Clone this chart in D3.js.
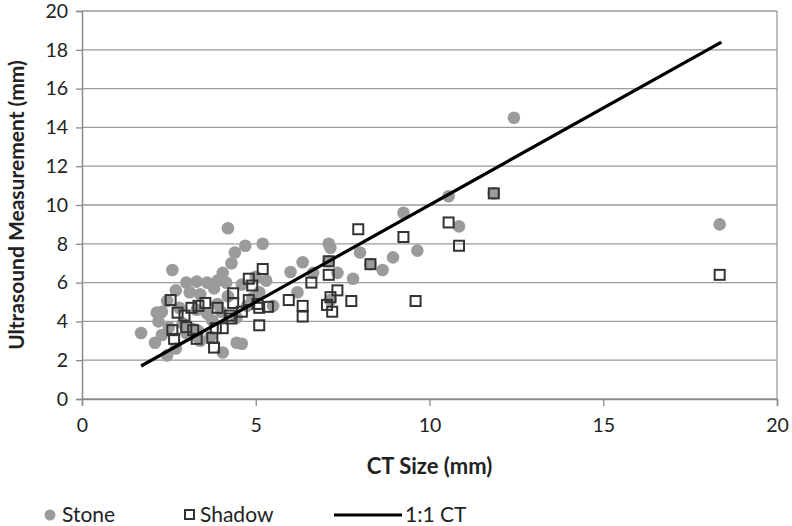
<!DOCTYPE html>
<html>
<head>
<meta charset="utf-8">
<script src="https://cdn.jsdelivr.net/npm/d3@7"></script>
<style>
  body { margin: 0; background: #fff; }
  text { font-family: Lato, "Open Sans", sans-serif; fill: #222; }
</style>
</head>
<body>
<div id="chart"></div>
<script>
var width = 792, height = 526;
var margin = {left: 82, right: 15, top: 11, bottom: 127};

// stone measurements [CT size, ultrasound]
var stone = [
  [12.43,14.5],[18.35,9.0],[10.55,10.45],[10.85,8.9],[9.25,9.6],[9.65,7.65],[8.95,7.3],
  [8.65,6.65],[8.0,7.55],[7.1,8.0],[7.15,7.8],[7.35,6.5],[7.8,6.2],[6.35,7.05],[6.0,6.55],
  [6.65,6.5],[6.2,5.5],[7.15,5.1],[11.85,10.6],[8.3,6.95],[7.1,7.1],[4.2,8.8],[4.7,7.9],
  [5.2,8.0],[4.4,7.55],[4.3,7.0],[2.6,6.65],[4.05,6.5],[3.0,6.0],[3.3,6.05],[3.6,6.0],
  [3.9,6.1],[4.15,6.0],[5.3,6.1],[5.0,6.3],[3.1,5.5],[3.4,5.4],[5.1,5.5],[2.15,4.45],
  [2.45,5.05],[2.8,4.7],[1.7,3.4],[2.1,2.9],[2.45,2.25],[2.7,2.6],[2.3,3.3],[3.0,3.4],
  [3.2,3.6],[3.35,3.5],[4.05,2.4],[4.45,2.9],[4.6,2.85],[3.75,4.05],[4.45,4.2],[4.75,4.8],
  [3.6,4.4],[3.9,4.9],[2.9,3.9],[3.4,3.0],[3.7,3.2],[2.5,3.7],[2.2,4.0],[4.0,4.5],
  [4.9,5.2],[5.5,4.8],[4.2,5.3],[3.3,4.6],[2.7,5.6],[3.8,5.7],[4.6,5.9],[3.2,3.3],[2.3,4.5]
];

// acoustic shadow measurements [CT size, ultrasound]
var shadow = [
  [11.85,10.6],[7.95,8.75],[9.25,8.35],[10.55,9.1],[10.85,7.9],[7.1,7.1],[8.3,6.95],
  [7.1,6.4],[6.6,6.0],[7.35,5.6],[7.15,5.25],[5.95,5.1],[6.35,4.8],[7.05,4.85],[7.75,5.05],
  [9.6,5.05],[6.35,4.25],[7.2,4.5],[18.35,6.4],[5.2,6.7],[4.8,6.2],[4.9,5.85],[4.35,5.45],
  [4.35,4.95],[4.8,5.1],[5.05,4.9],[5.35,4.75],[5.1,4.7],[4.6,4.5],[4.3,4.15],[5.1,3.8],
  [2.55,5.1],[2.75,4.45],[2.95,4.3],[3.15,4.7],[3.35,4.8],[3.55,4.95],[3.9,4.7],[2.6,3.55],
  [2.65,3.1],[3.0,3.7],[3.2,3.55],[3.3,3.1],[3.85,3.65],[4.05,3.65],[3.75,3.15],[3.8,2.65],
  [4.25,4.3]
];

var lineCT = [1.7, 18.4]; // 1:1 reference line ends
var xTicks = [0, 5, 10, 15, 20];
var yTicks = [0, 2, 4, 6, 8, 10, 12, 14, 16, 18, 20];

var svg = d3.select("#chart").append("svg")
  .attr("width", width).attr("height", height);

var x = d3.scaleLinear().domain([0, 20]).range([margin.left, width - margin.right]);
var y = d3.scaleLinear().domain([0, 20]).range([height - margin.bottom, margin.top]);

// gridlines
svg.append("g").selectAll("line").data(yTicks).enter().append("line")
  .attr("x1", x(0)).attr("x2", x(20))
  .attr("y1", d => y(d)).attr("y2", d => y(d))
  .attr("stroke", "#9a9a9a").attr("stroke-width", 1.3);

// right border of plot
svg.append("line")
  .attr("x1", x(20)).attr("x2", x(20)).attr("y1", y(20)).attr("y2", y(0))
  .attr("stroke", "#9a9a9a").attr("stroke-width", 1.3);

// axes
var yAxis = svg.append("g")
  .attr("transform", `translate(${x(0)},0)`)
  .call(d3.axisLeft(y).tickValues(yTicks).tickSize(6).tickPadding(8));
var xAxis = svg.append("g")
  .attr("transform", `translate(0,${y(0)})`)
  .call(d3.axisBottom(x).tickValues(xTicks).tickSize(7).tickPadding(12));

[xAxis, yAxis].forEach(function (a) {
  a.select(".domain").attr("stroke", "#8a8a8a").attr("stroke-width", 1.5);
  a.selectAll(".tick line").attr("stroke", "#8a8a8a").attr("stroke-width", 1.3);
  a.selectAll(".tick text").style("font-size", "19.5px").style("font-family", "Lato, sans-serif").attr("fill", "#222");
});

// stones
svg.append("g").selectAll("circle").data(stone).enter().append("circle")
  .attr("cx", d => x(d[0])).attr("cy", d => y(d[1]))
  .attr("r", 6.3)
  .attr("fill", "#9b9b9b");

// shadows
var sq = 10;
svg.append("g").selectAll("rect").data(shadow).enter().append("rect")
  .attr("x", d => x(d[0]) - sq / 2).attr("y", d => y(d[1]) - sq / 2)
  .attr("width", sq).attr("height", sq)
  .attr("fill", "none")
  .attr("stroke", "#333").attr("stroke-width", 2);

// 1:1 line
svg.append("line")
  .attr("x1", x(lineCT[0])).attr("y1", y(lineCT[0]))
  .attr("x2", x(lineCT[1])).attr("y2", y(lineCT[1]))
  .attr("stroke", "#000").attr("stroke-width", 3.2);

// axis titles
svg.append("text")
  .attr("x", (x(0) + x(20)) / 2).attr("y", 474)
  .attr("text-anchor", "middle")
  .style("font-size", "22px").style("font-weight", "bold")
  .text("CT Size (mm)");

svg.append("text")
  .attr("transform", `translate(24,${(y(0) + y(20)) / 2}) rotate(-90)`)
  .attr("text-anchor", "middle")
  .style("font-size", "21px").style("font-weight", "bold")
  .text("Ultrasound Measurement (mm)");

// legend
var leg = svg.append("g").attr("transform", "translate(0,515)");
leg.append("circle").attr("cx", 50).attr("cy", 0).attr("r", 5.5).attr("fill", "#9b9b9b");
leg.append("text").attr("x", 62).attr("y", 7).style("font-size", "21px").text("Stone");
leg.append("rect").attr("x", 185).attr("y", -5).attr("width", 9).attr("height", 9)
  .attr("fill", "#fff").attr("stroke", "#333").attr("stroke-width", 2);
leg.append("text").attr("x", 200).attr("y", 7).style("font-size", "21px").text("Shadow");
leg.append("line").attr("x1", 334).attr("x2", 402).attr("y1", 0).attr("y2", 0)
  .attr("stroke", "#000").attr("stroke-width", 3);
leg.append("text").attr("x", 405).attr("y", 7).style("font-size", "21px").text("1:1 CT");
</script>
</body>
</html>
